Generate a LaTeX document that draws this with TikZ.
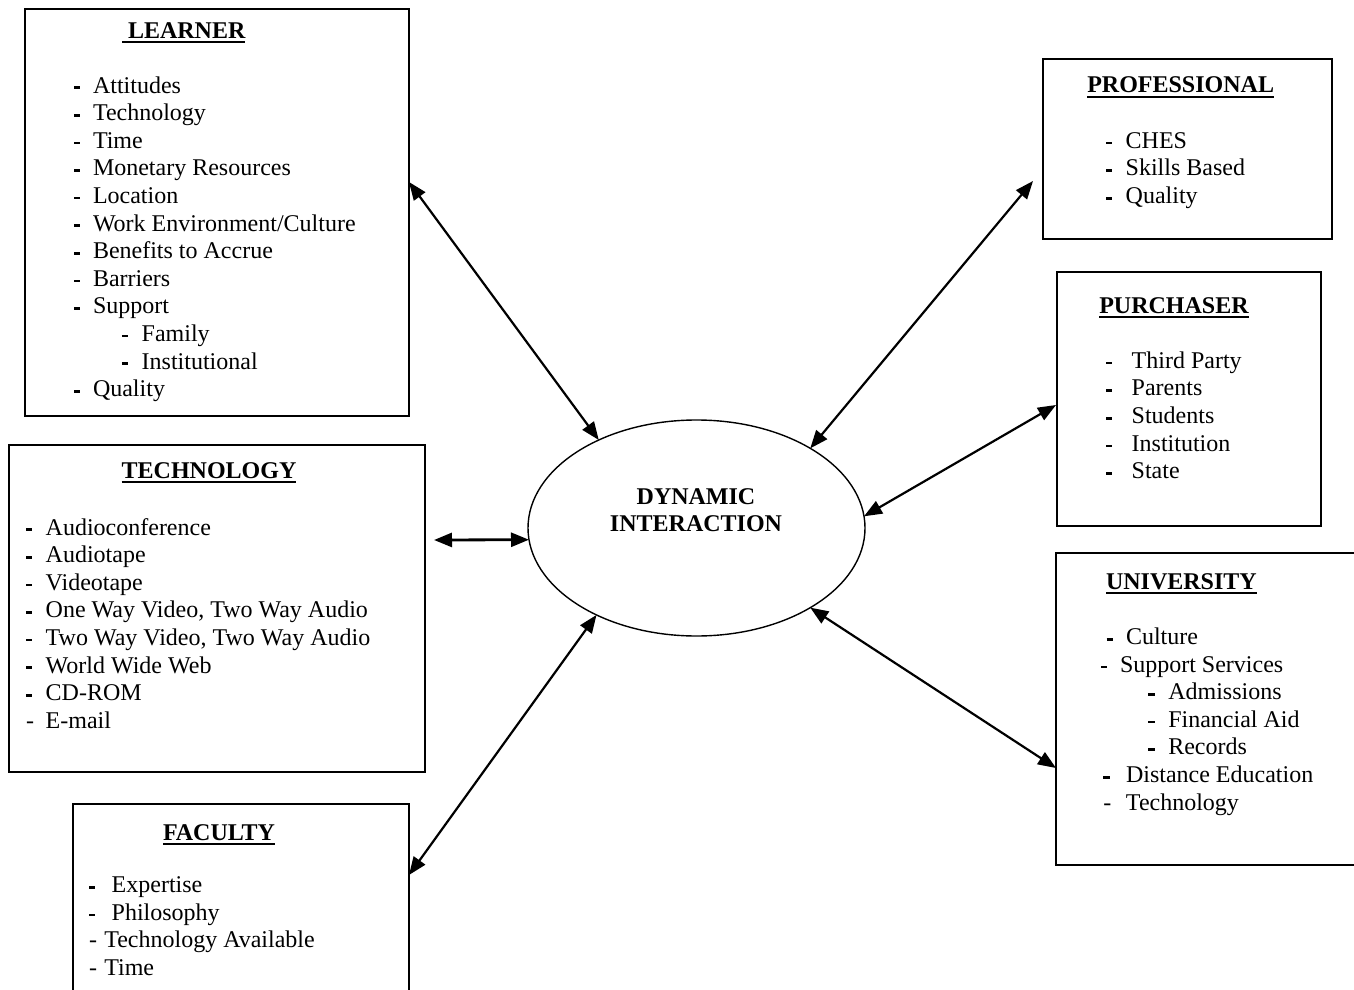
\documentclass[tikz,border=0pt]{standalone}
\usepackage{fontspec}
\setmainfont{Liberation Serif}
\usetikzlibrary{arrows.meta,shapes.geometric}
\newcommand\lst{\rule[-4.14pt]{0pt}{13.8pt}}
\newcommand\bdash{\rule[2pt]{3.1pt}{1.3pt}}
\newcommand\li[3]{\lst\makebox[0pt][l]{\hspace*{#1}\bdash}\hspace*{#2}#3}
\newcommand\lin[3]{\lst\makebox[0pt][l]{\hspace*{#1}-}\hspace*{#2}#3}
\begin{document}
\begin{tikzpicture}[x=0.5pt,y=-0.5pt,
  every node/.style={font=\fontsize{12}{13.8}\selectfont},
  box/.style={draw, line width=1pt, rectangle, inner sep=0pt, outer sep=0pt, anchor=north west},
  ttl/.style={inner sep=0pt, outer sep=0pt, anchor=base west, font=\fontsize{12}{13.8}\selectfont\bfseries},
  lst/.style={inner sep=0pt, outer sep=0pt, anchor=north west, align=left},
  uline/.style={line width=0.9pt},
  arr/.style={{Triangle[length=9pt,width=7pt]}-{Triangle[length=9pt,width=7pt]}, line width=1.1pt}]
\useasboundingbox (0,0) rectangle (1354,990);

% boxes
\node[box, minimum width=192pt, minimum height=203.5pt] (learner) at (25,9) {};
\node[box, minimum width=208.25pt, minimum height=163.5pt] (tech) at (8.5,445) {};
\node[box, minimum width=168pt, minimum height=95pt] (faculty) at (73,804) {};
\node[box, minimum width=144.5pt, minimum height=90pt] (prof) at (1043,59) {};
\node[box, minimum width=132pt, minimum height=127pt] (purch) at (1057,272) {};
\node[box, minimum width=151pt, minimum height=156pt] (univ) at (1056,553) {};

% central ellipse
\node[ellipse, draw, line width=0.7pt, minimum width=168.5pt, minimum height=108pt, inner sep=0pt, outer sep=0pt] (dyn) at (696.5,528) {};
\node[align=center, inner sep=0pt, font=\fontsize{12}{13.8}\selectfont\bfseries] (dyntext) at (696,510) {DYNAMIC\\INTERACTION};

% titles
\node[ttl] (tl) at (122,38.3) {\ LEARNER};
\node[ttl] (tt) at (121.7,478.3) {TECHNOLOGY};
\node[ttl] (tf) at (163,840) {FACULTY};
\node[ttl] (tp) at (1087.3,92.7) {PROFESSIONAL};
\node[ttl] (tu) at (1099.3,313.3) {PURCHASER};
\node[ttl] (tv) at (1106,589.3) {UNIVERSITY};
\foreach \t in {tl,tt,tf,tp,tu,tv}{
  \draw[uline] ([yshift=-2pt]\t.base west) -- ([yshift=-2pt]\t.base east);
}

% lists
\node[lst] (ll) at (74,73.7) {%
\li{0pt}{9.5pt}{Attitudes}\\
\li{0pt}{9.5pt}{Technology}\\
\li{0pt}{9.5pt}{Time}\\
\li{0pt}{9.5pt}{Monetary Resources}\\
\li{0pt}{9.5pt}{Location}\\
\li{0pt}{9.5pt}{Work Environment/Culture}\\
\li{0pt}{9.5pt}{Benefits to Accrue}\\
\li{0pt}{9.5pt}{Barriers}\\
\li{0pt}{9.5pt}{Support}\\
\li{24pt}{33.85pt}{Family}\\
\li{24pt}{33.85pt}{Institutional}\\
\li{0pt}{9.5pt}{Quality}};

\node[lst] (lt) at (26,515.7) {%
\li{0pt}{9.85pt}{Audioconference}\\
\li{0pt}{9.85pt}{Audiotape}\\
\li{0pt}{9.85pt}{Videotape}\\
\li{0pt}{9.85pt}{One Way Video, Two Way Audio}\\
\li{0pt}{9.85pt}{Two Way Video, Two Way Audio}\\
\li{0pt}{9.85pt}{World Wide Web}\\
\li{0pt}{9.85pt}{CD-ROM}\\
\lin{0pt}{9.85pt}{E-mail}};

\node[lst] (lf) at (89,873.4) {%
\li{0pt}{11.35pt}{Expertise}\\
\li{0pt}{11.35pt}{Philosophy}\\
\lin{0pt}{7.65pt}{Technology Available}\\
\lin{0pt}{7.65pt}{Time}};

\node[lst] (lp) at (1106,129) {%
\li{0pt}{9.85pt}{CHES}\\
\li{0pt}{9.85pt}{Skills Based}\\
\li{0pt}{9.85pt}{Quality}};

\node[lst] (lu) at (1106,349) {%
\li{0pt}{12.85pt}{Third Party}\\
\li{0pt}{12.85pt}{Parents}\\
\li{0pt}{12.85pt}{Students}\\
\li{0pt}{12.85pt}{Institution}\\
\li{0pt}{12.85pt}{State}};

\node[lst] (lv) at (1101,625.2) {%
\li{2.85pt}{12.5pt}{Culture}\\
\li{0pt}{9.5pt}{Support Services}\\
\li{23.65pt}{33.65pt}{Admissions}\\
\li{23.65pt}{33.65pt}{Financial Aid}\\
\li{23.65pt}{33.65pt}{Records}\\
\li{1.15pt}{12.5pt}{Distance Education}\\
\lin{1.15pt}{12.5pt}{Technology}};

% connectors
\draw[arr] ([yshift=15.25pt]learner.east) -- (dyn.138.6);
\draw[arr] ([xshift=-5pt,yshift=-16pt]prof.west) -- (dyn.35.5);
\draw[arr] ([xshift=-0.5pt,yshift=-3pt]purch.west) -- (dyn.4.4);
\draw[arr,line width=1.4pt] ([xshift=4.5pt,yshift=34.25pt]tech.east) -- (dyn.184.1);
\draw[arr] ([yshift=-35.5pt]faculty.north east) -- (dyn.221.4);
\draw[arr] ([yshift=-107.5pt]univ.north west) -- (dyn.325.2);
\end{tikzpicture}
\end{document}
